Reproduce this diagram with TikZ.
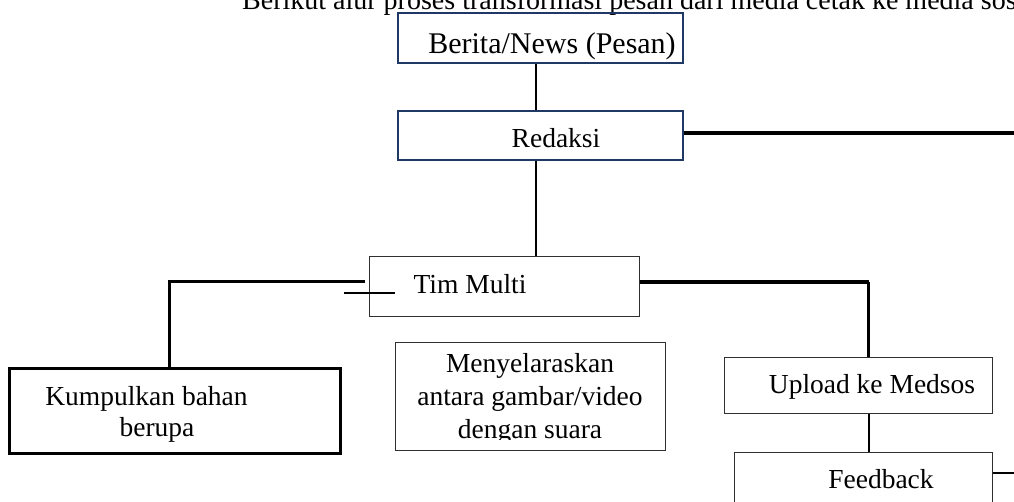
\documentclass[tikz,border=0pt]{standalone}
\usepackage{fontspec}
\setmainfont{Liberation Serif}
\definecolor{navy}{HTML}{1F3864}
\definecolor{dgray}{HTML}{303030}
\tikzset{
  navybox/.style={draw=navy, line width=2pt, rectangle, inner sep=0pt, anchor=north west},
  thinbox/.style={draw=dgray, line width=1.2pt, rectangle, inner sep=0pt, anchor=north west},
  boldbox/.style={draw=black, line width=2.5pt, rectangle, inner sep=0pt, anchor=north west},
  txt/.style={inner sep=0pt, anchor=base, font=\fontsize{27.5}{33}\selectfont, text=black},
  ln/.style={draw=black, line width=2pt},
  lnthick/.style={draw=black, line width=3.5pt},
}
\begin{document}
\begin{tikzpicture}[x=1pt, y=-1pt]
\useasboundingbox (0,0) rectangle (1014,502);
\clip (0,0) rectangle (1014,502);
% title
\node[inner sep=0pt, anchor=base west, font=\fontsize{28}{32}\selectfont] (title) at (242,9.5) {Berikut alur proses transformasi pesan dari media cetak ke media sosial};
% boxes
\node[navybox, minimum width=285, minimum height=50] (berita) at (397,12) {};
\node[navybox, minimum width=285, minimum height=49] (redaksi) at (397,110) {};
\node[thinbox, minimum width=270, minimum height=60] (tim) at (369,256) {};
\node[boldbox, minimum width=331, minimum height=85] (kump) at (8,367) {};
\node[thinbox, minimum width=270, minimum height=108] (menye) at (395,342) {};
\node[thinbox, minimum width=268, minimum height=56] (upload) at (724,357) {};
\node[thinbox, minimum width=258, minimum height=80] (feedback) at (734,452) {};
% texts
\node[txt, font=\fontsize{30}{34}\selectfont] (beritaT) at (552,54) {Berita/News (Pesan)};
\node[txt] (redaksiT) at (556,148) {Redaksi};
\begin{scope}
\clip (369,256) rectangle (639,296);
\node[txt] (timT) at (470,294) {Tim Multi};
\end{scope}
\node[txt, align=center, font=\fontsize{27.5}{31}\selectfont] (kumpT) at (157,436) {Kumpulkan bahan\kern21pt\\berupa};
\begin{scope}
\clip (395,342) rectangle (665,439);
\node[txt, align=center, font=\fontsize{27.5}{33}\selectfont] (menyeT) at (530,438) {Menyelaraskan\\antara gambar/video\\dengan suara};
\end{scope}
\node[txt] (uploadT) at (872,393) {Upload ke Medsos};
\node[txt] (feedbackT) at (881,488) {Feedback};
% helper coordinates
\coordinate (redEnd) at (1014,133);
\coordinate (fbEnd) at (1014,472.5);
\coordinate (stubA) at (344,293);
\coordinate (stubB) at (395,293);
\coordinate (tre) at ([yshift=5pt]tim.east);
\coordinate (tlw) at ([yshift=5pt]tim.west);
\coordinate (upc) at ([xshift=10pt]upload.north);
\coordinate (ups) at ([xshift=10pt]upload.south);
\coordinate (kn) at ([xshift=-5.5pt]kump.north);
% connectors
\draw[ln] ([xshift=-4.5pt]berita.south) -- ([xshift=-4.5pt]redaksi.north);
\draw[lnthick] (redaksi.east |- redEnd) -- (redEnd);
\draw[ln] ([xshift=-4.5pt]redaksi.south) -- ([xshift=-4.5pt]redaksi.south |- tim.north);
\draw[line width=3pt] ([xshift=-4pt]tlw) -| (kn);
\draw[ln] (stubA) -- (stubB);
\draw[line width=4pt] (tre) -- (upc |- tre);
\draw[line width=2.5pt] (upc |- tre) -- (upc);
\draw[ln] (ups) -- (ups |- feedback.north);
\draw[ln] (feedback.east |- fbEnd) -- (fbEnd);
\end{tikzpicture}
\end{document}
